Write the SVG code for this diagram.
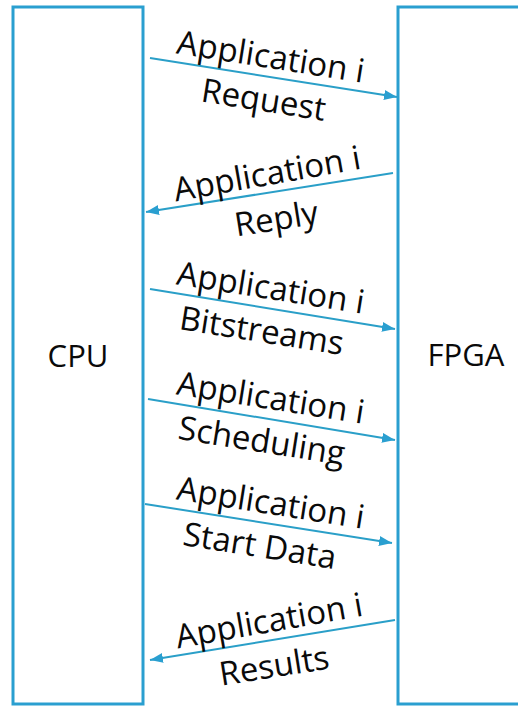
<svg xmlns="http://www.w3.org/2000/svg" width="518" height="706" viewBox="0 0 518 706">
  <defs>
    <marker id="head" markerUnits="userSpaceOnUse" markerWidth="14" markerHeight="11" refX="13" refY="5" orient="auto">
      <path d="M0,0 L13,5 L0,10 Z" fill="#2a9fd0"/>
    </marker>
    <style>
      .box { fill: #ffffff; stroke: #2a9fd0; stroke-width: 3; }
      .title { font-family: "Open Sans", "Liberation Sans", sans-serif; font-size: 31px; fill: #0a0a0a; text-anchor: middle; }
      .lbl { font-family: "Open Sans", "Liberation Sans", sans-serif; font-size: 33px; fill: #0a0a0a; text-anchor: middle; }
      .msg { stroke: #2a9fc8; stroke-width: 2; fill: none; marker-end: url(#head); }
    </style>
  </defs>

  <rect width="518" height="706" fill="#ffffff"/>

  <g id="cpu">
    <rect class="box" x="13" y="7" width="130" height="697"/>
    <text class="title" x="78" y="367">CPU</text>
  </g>

  <g id="fpga">
    <rect class="box" x="398" y="7" width="130" height="697"/>
    <text class="title" x="466" y="366">FPGA</text>
  </g>

  <g id="connectors">
    <line class="msg" x1="150" y1="58" x2="397" y2="97"/>
    <line class="msg" x1="393" y1="173" x2="146" y2="212"/>
    <line class="msg" x1="150" y1="289" x2="395" y2="329"/>
    <line class="msg" x1="148" y1="399" x2="395" y2="440"/>
    <line class="msg" x1="145" y1="504" x2="392" y2="543"/>
    <line class="msg" x1="395" y1="620" x2="150" y2="660"/>
  </g>

  <g id="labels">
    <text class="lbl" transform="translate(269,68) rotate(9)">Application i</text>
    <text class="lbl" transform="translate(262,111) rotate(9)">Request</text>

    <text class="lbl" transform="translate(269,185) rotate(-10)">Application i</text>
    <text class="lbl" transform="translate(278,230) rotate(-9)">Reply</text>

    <text class="lbl" transform="translate(269,299) rotate(9)">Application i</text>
    <text class="lbl" transform="translate(260,342) rotate(9)">Bitstreams</text>

    <text class="lbl" transform="translate(269,409) rotate(9)">Application i</text>
    <text class="lbl" transform="translate(260,452) rotate(9)">Scheduling</text>

    <text class="lbl" transform="translate(269,514) rotate(9)">Application i</text>
    <text class="lbl" transform="translate(258,557) rotate(9)">Start Data</text>

    <text class="lbl" transform="translate(271,632) rotate(-10)">Application i</text>
    <text class="lbl" transform="translate(276,677) rotate(-9)">Results</text>
  </g>
</svg>
